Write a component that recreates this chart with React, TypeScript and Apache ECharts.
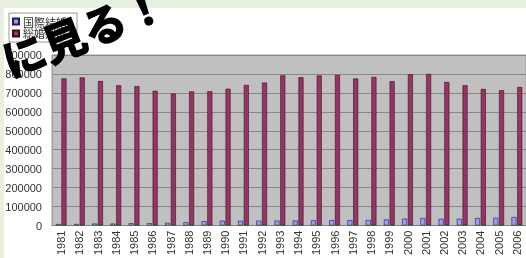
import React, { useEffect, useRef } from "react";
import * as echarts from "echarts";

const years = [
  "1981", "1982", "1983", "1984", "1985", "1986", "1987", "1988", "1989", "1990",
  "1991", "1992", "1993", "1994", "1995", "1996", "1997", "1998", "1999", "2000",
  "2001", "2002", "2003", "2004", "2005", "2006",
];
const international = [
  7800, 8400, 10500, 10300, 12200, 12500, 14600, 17200, 22800, 25600,
  25200, 25900, 26100, 25900, 27700, 28400, 28300, 29600, 31900, 36300,
  39700, 35900, 36000, 39500, 41500, 44700,
];
const totalMarriages = [
  776500, 781300, 762600, 740000, 735900, 711000, 696200, 707700, 708300, 722100,
  742300, 754400, 792700, 782700, 791900, 795100, 775700, 784600, 762000, 798100,
  800000, 757300, 740200, 720400, 714300, 731000,
];
const seriesNames = ["国際結婚", "総婚姻数"];
const overlayText = "に見る！";

export default function App() {
  const ref = useRef<HTMLDivElement>(null);
  useEffect(() => {
    if (!ref.current) return;
    const chart = echarts.init(ref.current, undefined, { renderer: "svg" });
    chart.setOption({
      animation: false,
      graphic: [
        { type: "rect", z: -100, silent: true, shape: { x: 0, y: 0, width: 526, height: 258 }, style: { fill: "#e8f0e0" } },
        { type: "rect", z: -99, silent: true, shape: { x: 4, y: 8, width: 522, height: 250 }, style: { fill: "#ffffff" } },
        {
          type: "text",
          z: 200,
          zlevel: 1,
          x: 3,
          y: 61,
          rotation: 0.37,
          style: {
            text: overlayText,
            font: 'bold 43px "Noto Sans CJK JP"',
            fill: "#000",
            stroke: "#000",
            lineWidth: 1.5,
            align: "left",
            verticalAlign: "middle",
          },
        },
      ],
      legend: {
        data: seriesNames,
        orient: "vertical",
        left: 9,
        top: 13,
        padding: [3, 10, 3, 3],
        itemGap: 1,
        itemWidth: 6,
        itemHeight: 6,
        icon: "rect",
        backgroundColor: "#fff",
        borderColor: "#999",
        borderWidth: 1,
        borderRadius: 0,
        textStyle: { fontSize: 11, color: "#333", fontFamily: '"Noto Sans CJK JP"', padding: [0, 0, 0, -1] },
      },
      grid: {
        left: 52,
        right: 0,
        top: 55,
        bottom: 30,
        show: true,
        backgroundColor: "#c0c0c0",
        borderColor: "#9a9a9a",
        borderWidth: 1,
      },
      xAxis: {
        type: "category",
        data: years,
        axisLine: { lineStyle: { color: "#808080" } },
        axisTick: { inside: true, length: 3, lineStyle: { color: "#606060" } },
        axisLabel: {
          rotate: 90,
          interval: 0,
          fontSize: 11,
          margin: 5,
          color: "#333",
          fontFamily: '"Liberation Sans"',
        },
      },
      yAxis: {
        type: "value",
        min: 0,
        max: 900000,
        interval: 100000,
        axisLine: { show: true, lineStyle: { color: "#a0a0a0" } },
        axisTick: { show: false },
        splitLine: { lineStyle: { color: "#888", width: 1 } },
        axisLabel: {
          fontSize: 11,
          margin: 10,
          color: "#333",
          fontFamily: '"Liberation Sans"',
          formatter: (v: number) => String(v),
        },
      },
      series: [
        {
          name: seriesNames[0],
          type: "bar",
          data: international,
          barWidth: 5,
          barGap: "15%",
          itemStyle: { color: "#9999ff", borderColor: "#202040", borderWidth: 0.6 },
        },
        {
          name: seriesNames[1],
          type: "bar",
          data: totalMarriages,
          barWidth: 5,
          itemStyle: { color: "#993366", borderColor: "#301020", borderWidth: 0.6 },
        },
      ],
    });
    return () => chart.dispose();
  }, []);
  return (
    <div
      ref={ref}
      style={{ position: "fixed", left: 0, top: 0, width: 526, height: 258 }}
    />
  );
}
